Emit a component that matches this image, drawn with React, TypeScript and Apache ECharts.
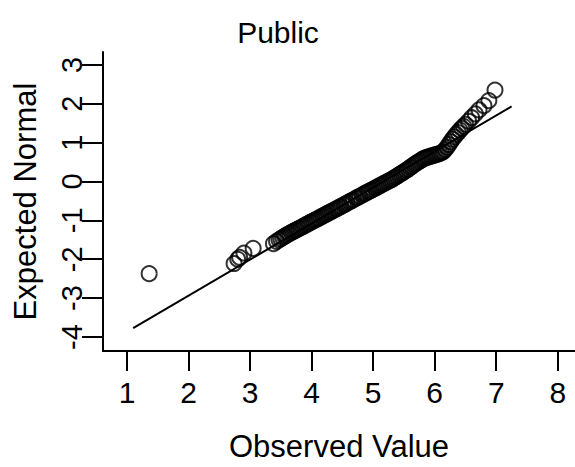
import React, { useEffect, useRef } from "react";
import * as echarts from "echarts";

const titleText = "Public";
const xName = "Observed Value";
const yName = "Expected Normal";
const xTicks = [1, 2, 3, 4, 5, 6, 7, 8];
const yTicks = [-4, -3, -2, -1, 0, 1, 2, 3];

// [observed value, expected normal]
const qqPoints = [
  [1.36, -2.37], [2.74, -2.11], [2.8, -2.0], [2.83, -1.95], [2.9, -1.84], [3.05, -1.72],
  [3.38, -1.6], [3.43, -1.54], [3.47, -1.5], [3.5, -1.47], [3.53, -1.44], [3.56, -1.41],
  [3.58, -1.39], [3.61, -1.36], [3.64, -1.34], [3.67, -1.31], [3.7, -1.29], [3.73, -1.26],
  [3.76, -1.24], [3.79, -1.21], [3.82, -1.19], [3.85, -1.16], [3.88, -1.14], [3.91, -1.11],
  [3.94, -1.09], [3.97, -1.06], [4.0, -1.04], [4.03, -1.01], [4.06, -0.99], [4.09, -0.96],
  [4.12, -0.94], [4.15, -0.91], [4.18, -0.89], [4.21, -0.86], [4.24, -0.84], [4.27, -0.81],
  [4.3, -0.79], [4.33, -0.76], [4.36, -0.74], [4.39, -0.71], [4.42, -0.69], [4.45, -0.66],
  [4.48, -0.64], [4.52, -0.6], [4.55, -0.58], [4.58, -0.55], [4.62, -0.52], [4.65, -0.49],
  [4.68, -0.47], [4.72, -0.43], [4.75, -0.41], [4.78, -0.38], [4.82, -0.35], [4.85, -0.32],
  [4.88, -0.3], [4.91, -0.27], [4.94, -0.25], [4.97, -0.22], [5.0, -0.2], [5.03, -0.17],
  [5.06, -0.15], [5.09, -0.12], [5.12, -0.1], [5.15, -0.07], [5.18, -0.05], [5.21, -0.02],
  [5.24, 0.0], [5.27, 0.03], [5.3, 0.05], [5.33, 0.08], [5.36, 0.11], [5.39, 0.14],
  [5.42, 0.17], [5.45, 0.2], [5.48, 0.23], [5.51, 0.26], [5.54, 0.29], [5.57, 0.32],
  [5.6, 0.36], [5.63, 0.39], [5.66, 0.43], [5.69, 0.46], [5.72, 0.49], [5.75, 0.52],
  [5.78, 0.55], [5.81, 0.58], [5.84, 0.6], [5.87, 0.62], [5.9, 0.63], [5.93, 0.65],
  [5.96, 0.66], [5.99, 0.68], [6.02, 0.69], [6.05, 0.7], [6.08, 0.72], [6.11, 0.74],
  [6.14, 0.77], [6.17, 0.82], [6.2, 0.88], [6.23, 0.95], [6.26, 1.02], [6.29, 1.09],
  [6.32, 1.15], [6.35, 1.21], [6.38, 1.26], [6.41, 1.32], [6.44, 1.37], [6.47, 1.42],
  [6.5, 1.47], [6.55, 1.55], [6.6, 1.64], [6.66, 1.74], [6.72, 1.84], [6.8, 1.95],
  [6.88, 2.08], [6.98, 2.35],
];
const refLineX = [1.1, 7.25];
const refLineY = [-3.77, 1.93];

const FONT = "'Liberation Sans', Arial, sans-serif";

export default function App() {
  const ref = useRef<HTMLDivElement>(null);
  useEffect(() => {
    document.body.style.margin = "0";
    const chart = echarts.init(ref.current!, null, { renderer: "svg" });
    const line = refLineX.map((x, i) => [x, refLineY[i]]);
    chart.setOption({
      animation: false,
      backgroundColor: "#ffffff",
      title: {
        text: titleText,
        left: 273,
        top: 12,
        textAlign: "center",
        textStyle: { fontFamily: FONT, fontSize: 30, fontWeight: "normal", color: "#000" },
      },
      grid: { left: 103, right: 0, top: 52, bottom: 113, containLabel: false },
      xAxis: {
        type: "value",
        min: 0.61,
        max: 8.28,
        name: xName,
        nameLocation: "middle",
        nameGap: 80,
        nameTextStyle: { fontFamily: FONT, fontSize: 31, color: "#000" },
        axisLine: { show: true, onZero: false, lineStyle: { color: "#000", width: 2 } },
        axisTick: { show: true, length: 20, customValues: xTicks, lineStyle: { color: "#000", width: 2 } },
        axisLabel: {
          customValues: xTicks,
          margin: 26,
          fontFamily: FONT,
          fontSize: 30,
          color: "#000",
        },
        splitLine: { show: false },
      },
      yAxis: {
        type: "value",
        min: -4.36,
        max: 3.33,
        name: yName,
        nameLocation: "middle",
        nameGap: 62,
        nameRotate: 90,
        nameTextStyle: { fontFamily: FONT, fontSize: 31, color: "#000" },
        axisLine: { show: true, onZero: false, lineStyle: { color: "#000", width: 2 } },
        axisTick: { show: true, length: 21, customValues: yTicks, lineStyle: { color: "#000", width: 2 } },
        axisLabel: {
          customValues: yTicks,
          rotate: 90,
          align: "center",
          verticalAlign: "middle",
          margin: 31,
          fontFamily: FONT,
          fontSize: 29,
          color: "#000",
        },
        splitLine: { show: false },
      },
      series: [
        {
          type: "line",
          data: line,
          symbol: "none",
          lineStyle: { color: "#000", width: 2 },
          z: 2,
        },
        {
          type: "scatter",
          data: qqPoints,
          symbol: "circle",
          symbolSize: 15,
          itemStyle: { color: "rgba(0,0,0,0)", borderColor: "#000", borderWidth: 2 },
          z: 3,
        },
      ],
    });
    return () => chart.dispose();
  }, []);
  return <div ref={ref} style={{ position: "fixed", left: 0, top: 0, width: 575, height: 467 }} />;
}
